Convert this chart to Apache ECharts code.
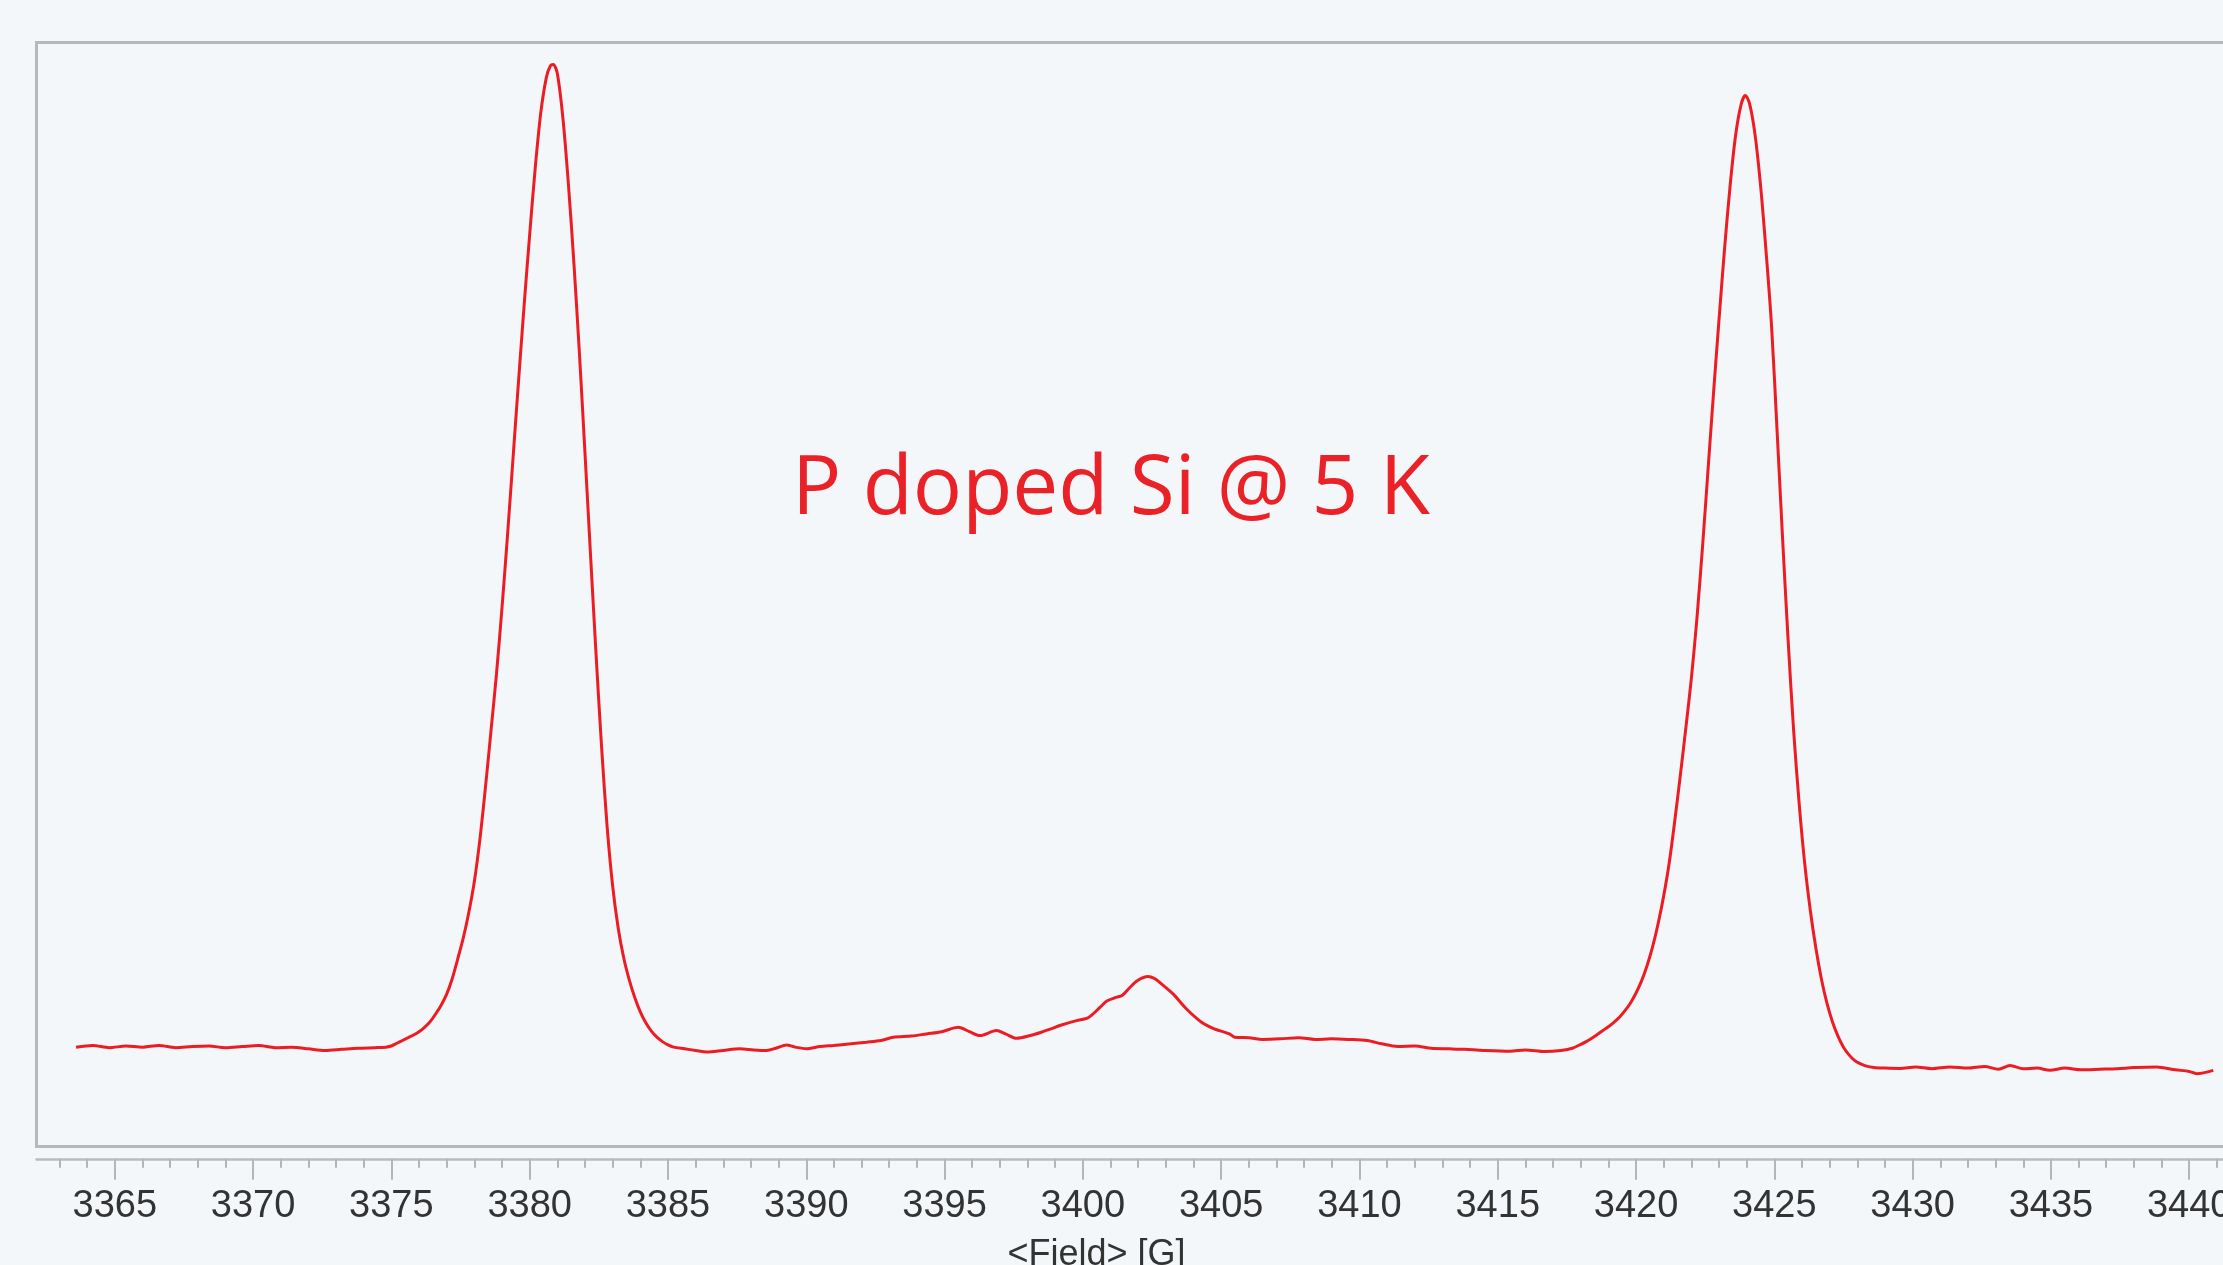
<!DOCTYPE html>
<html>
<head>
<meta charset="utf-8">
<title>P doped Si @ 5 K</title>
<script src="https://cdn.jsdelivr.net/npm/echarts@6/dist/echarts.min.js"></script>
<style>
  html, body { margin: 0; padding: 0; overflow: hidden; background: #f4f7f9; }
  #main { width: 2450px; height: 1265px; }
</style>
</head>
<body>
<div id="main"></div>
<script>
// magnetic field in gauss
var field = [
  // baseline, left
  3363.6, 3364.2, 3364.8, 3365.4, 3366.0, 3366.6, 3367.2, 3367.8, 3368.4, 3369.0,
  3369.6, 3370.2, 3370.8, 3371.4, 3372.0, 3372.6, 3373.2, 3373.8, 3374.4, 3374.8,
  // first hyperfine line
  3375.0, 3375.2, 3375.4, 3375.6, 3375.8, 3376.0, 3376.2, 3376.4, 3376.6, 3376.8,
  3377.0, 3377.2, 3377.4, 3377.6, 3377.8, 3378.0, 3378.2, 3378.4, 3378.6, 3378.8,
  3379.0, 3379.2, 3379.4, 3379.6, 3379.8, 3380.0, 3380.2, 3380.4, 3380.6,
  3380.75, 3380.85,
  3381.0, 3381.2, 3381.4, 3381.6, 3381.8, 3382.0, 3382.2, 3382.4, 3382.6, 3382.8,
  3383.0, 3383.2, 3383.4, 3383.6, 3383.8, 3384.0, 3384.2, 3384.4, 3384.6, 3384.8,
  3385.0, 3385.2,
  3385.6, 3386.0,
  // middle, with the small line near 3402 G
  3386.4, 3387.0, 3387.6, 3388.1, 3388.57, 3388.9, 3389.29, 3389.6, 3390.01, 3390.5,
  3390.98, 3391.6, 3392.18, 3392.7, 3393.15, 3393.8, 3394.35, 3394.9, 3395.5, 3395.9,
  3396.28, 3396.88, 3397.2, 3397.61, 3398.1, 3398.5, 3398.85, 3399.17, 3399.77, 3400.14,
  3400.32, 3400.62, 3400.88, 3401.2, 3401.43, 3401.7, 3401.98, 3402.35, 3402.6, 3402.81,
  3403.27, 3403.73, 3404.29, 3404.75, 3405.3, 3405.49, 3406.0, 3406.5, 3407.15, 3407.8,
  3408.4, 3408.99, 3409.6, 3410.28, 3410.8, 3411.39, 3412.0, 3412.6, 3413.24, 3413.8,
  3414.5, 3415.45, 3416.0, 3416.7, 3417.29, 3417.7,
  // second hyperfine line
  3418.0, 3418.2, 3418.4, 3418.6, 3418.8, 3419.0, 3419.2, 3419.4, 3419.6, 3419.8,
  3420.0, 3420.2, 3420.4, 3420.6, 3420.8, 3421.0, 3421.2, 3421.4, 3421.6, 3421.8,
  3422.0, 3422.2, 3422.4, 3422.6, 3422.8, 3423.0, 3423.2, 3423.4, 3423.6, 3423.8,
  3423.95,
  3424.1, 3424.3, 3424.5, 3424.7, 3424.9, 3425.1, 3425.3, 3425.5, 3425.7, 3425.9,
  3426.1, 3426.3, 3426.5, 3426.7, 3426.9, 3427.1, 3427.3, 3427.5, 3427.7, 3427.9,
  3428.1, 3428.3,
  3428.6,
  // baseline, right
  3429.0, 3429.54, 3430.1, 3430.7, 3431.35, 3432.0, 3432.6, 3433.1, 3433.52, 3434.0,
  3434.5, 3434.96, 3435.5, 3436.1, 3436.77, 3437.4, 3438.0, 3438.82, 3439.5, 3440.0,
  3440.27, 3440.87
];

// EPR signal, arbitrary units (0 = bottom of frame, 100 = top of frame)
var signal = [
  9.0, 9.15, 8.95, 9.1, 9.0, 9.15, 8.95, 9.05, 9.1, 8.95,
  9.05, 9.15, 8.95, 9.0, 8.85, 8.7, 8.8, 8.9, 8.95, 9.0,

  9.1, 9.35, 9.6, 9.85, 10.1, 10.4, 10.8, 11.3, 12.0, 12.8,
  13.8, 15.2, 17.0, 18.9, 21.2, 24.0, 27.8, 32.5, 37.6, 42.8,
  48.8, 55.4, 62.4, 69.4, 76.2, 82.6, 88.6, 93.6, 96.8,
  97.9, 98.0,
  97.2, 93.2, 87.2, 80.0, 71.8, 62.8, 53.6, 44.6, 36.2, 29.0,
  23.6, 19.8, 17.1, 15.1, 13.5, 12.2, 11.2, 10.45, 9.9, 9.5,
  9.2, 9.0,
  8.85, 8.7,

  8.55, 8.7, 8.85, 8.75, 8.7, 8.9, 9.2, 9.0, 8.85, 9.05,
  9.15, 9.3, 9.45, 9.6, 9.9, 10.0, 10.2, 10.4, 10.8, 10.4,
  10.05, 10.5, 10.2, 9.8, 10.05, 10.35, 10.66, 10.96, 11.4, 11.6,
  11.9, 12.6, 13.2, 13.5, 13.7, 14.4, 15.04, 15.4, 15.2, 14.8,
  13.8, 12.5, 11.26, 10.66, 10.2, 9.9, 9.85, 9.7, 9.75, 9.85,
  9.7, 9.75, 9.7, 9.6, 9.3, 9.06, 9.1, 8.9, 8.85, 8.8,
  8.7, 8.63, 8.75, 8.6, 8.7, 8.9,

  9.25, 9.5, 9.8, 10.15, 10.5, 10.85, 11.25, 11.7, 12.3, 13.0,
  13.9, 15.0, 16.4, 18.1, 20.2, 22.7, 25.7, 29.5, 33.6, 37.9,
  42.4, 47.8, 54.2, 61.2, 68.2, 74.9, 81.3, 87.0, 91.6, 94.4,
  95.2,
  94.5, 91.7, 87.1, 81.1, 74.3, 64.8, 55.0, 45.8, 37.6, 31.0,
  25.6, 21.4, 18.0, 15.2, 13.0, 11.3, 10.0, 9.0, 8.3, 7.8,
  7.5, 7.3,
  7.15,

  7.1, 7.07, 7.2, 7.05, 7.2, 7.1, 7.25, 7.0, 7.34, 7.05,
  7.1, 6.9, 7.1, 6.95, 7.0, 7.05, 7.15, 7.2, 6.95, 6.8,
  6.6, 6.9
];

// labelled ticks on the field axis
var fieldTicks = [3365, 3370, 3375, 3380, 3385, 3390, 3395, 3400, 3405, 3410, 3415, 3420, 3425, 3430, 3435, 3440];

var fieldMin = 3362.17;
var fieldMax = 3448;
var caption = 'P doped Si @ 5 K';
var axisName = '<Field> [G]';

var labelFont = "'Liberation Sans', Arial, sans-serif";

var myChart = echarts.init(document.getElementById('main'));

var data = field.map(function (f, i) { return [f, signal[i]]; });

var option = {
  animation: false,
  backgroundColor: '#f4f7f9',
  title: {
    text: caption,
    left: 787,
    top: 445,
    textStyle: {
      color: '#ea2228',
      fontSize: 82,
      fontWeight: 'normal',
      fontFamily: "'Open Sans', sans-serif"
    }
  },
  grid: [
    {
      // plot frame
      left: 36.5,
      top: 42.5,
      width: 2374,
      height: 1104,
      show: true,
      borderColor: '#b6b9ba',
      borderWidth: 3,
      backgroundColor: 'transparent'
    },
    {
      // strip just below the frame that carries the field axis
      left: 36.5,
      top: 1158.5,
      width: 2374,
      height: 1
    }
  ],
  xAxis: [
    {
      gridIndex: 0,
      type: 'value',
      min: fieldMin,
      max: fieldMax,
      show: false
    },
    {
      gridIndex: 1,
      type: 'value',
      min: fieldMin,
      max: fieldMax,
      splitNumber: 17,
      name: axisName,
      nameLocation: 'middle',
      nameGap: 78,
      nameTextStyle: {
        color: '#333',
        fontSize: 36,
        fontFamily: labelFont,
        padding: [0, 254, 0, 0]
      },
      axisLine: { lineStyle: { color: '#b9bcbd', width: 2.5 } },
      axisTick: {
        customValues: fieldTicks,
        length: 21,
        lineStyle: { color: '#b3b6b7', width: 2 }
      },
      minorTick: {
        show: true,
        splitNumber: 5,
        length: 9,
        lineStyle: { color: '#b3b6b7', width: 2 }
      },
      axisLabel: {
        customValues: fieldTicks,
        margin: 29,
        color: '#333',
        fontSize: 38,
        fontFamily: labelFont,
        formatter: function (v) { return String(v); }
      },
      splitLine: { show: false },
      minorSplitLine: { show: false }
    }
  ],
  yAxis: [
    { gridIndex: 0, type: 'value', min: 0, max: 100, show: false },
    { gridIndex: 1, type: 'value', min: 0, max: 1, show: false }
  ],
  series: [
    {
      type: 'line',
      xAxisIndex: 0,
      yAxisIndex: 0,
      data: data,
      showSymbol: false,
      smooth: 0.3,
      clip: true,
      lineStyle: { color: '#ec1c24', width: 3 }
    }
  ]
};

myChart.setOption(option);
</script>
</body>
</html>
